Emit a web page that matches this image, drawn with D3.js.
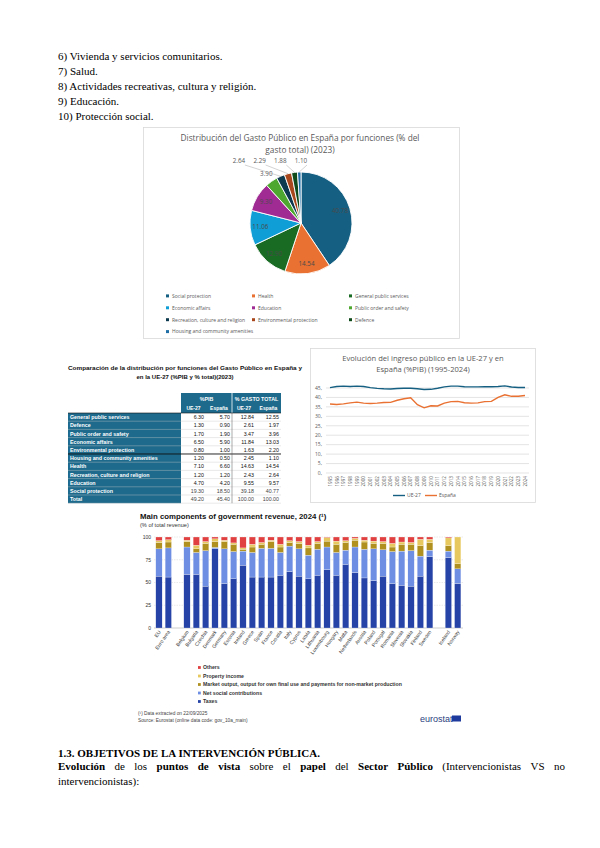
<!DOCTYPE html>
<html>
<head>
<meta charset="utf-8">
<script src="https://cdn.jsdelivr.net/npm/d3@7"></script>
<style>
body { margin: 0; background: #fff; }
svg { display: block; }
</style>
</head>
<body>
<div id="page"></div>
<script>
// ---- data ----
var introLines = ["6) Vivienda y servicios comunitarios.", "7) Salud.", "8) Actividades recreativas, cultura y religión.", "9) Educación.", "10) Protección social."];

var pieLabels = ["Social protection", "Health", "General public services", "Economic affairs", "Education",
  "Public order and safety", "Recreation, culture and religion", "Environmental protection", "Defence", "Housing and community amenities"];
var pieValues = [40.78, 14.54, 12.90, 11.06, 9.30, 3.90, 2.64, 2.29, 1.88, 1.10];
var pieColors = ["#156082", "#e97132", "#196b24", "#0f9ed5", "#a02b93", "#4ea72e", "#0d3a4e", "#a8471c", "#0f4a1a", "#1f6fa6"];

var tableRows = ["General public services", "Defence", "Public order and safety", "Economic affairs", "Environmental protection",
  "Housing and community amenities", "Health", "Recreation, culture and religion", "Education", "Social protection", "Total"];
var pibEU = [6.30, 1.30, 1.70, 6.50, 0.80, 1.20, 7.10, 1.20, 4.70, 19.30, 49.20];
var pibES = [5.70, 0.90, 1.90, 5.90, 1.00, 0.50, 6.60, 1.20, 4.20, 18.50, 45.40];
var totEU = [12.84, 2.61, 3.47, 11.84, 1.63, 2.45, 14.63, 2.43, 9.55, 39.18, 100.00];
var totES = [12.55, 1.97, 3.96, 13.03, 2.20, 1.10, 14.54, 2.64, 9.57, 40.77, 100.00];

var years = ["1995", "1996", "1997", "1998", "1999", "2000", "2001", "2002", "2003", "2004", "2005", "2006", "2007", "2008", "2009",
  "2010", "2011", "2012", "2013", "2014", "2015", "2016", "2017", "2018", "2019", "2020", "2021", "2022", "2023", "2024"];
var ue27 = [45.2, 45.8, 46.0, 45.8, 46.0, 45.8, 45.2, 44.8, 44.6, 44.5, 44.7, 44.9, 44.9, 44.6, 44.2,
  44.3, 44.9, 45.6, 46.0, 46.0, 45.7, 45.6, 45.6, 45.7, 45.7, 45.8, 46.1, 45.5, 45.3, 45.3];
var espana = [36.5, 36.3, 36.6, 37.1, 37.5, 37.0, 36.8, 37.0, 37.3, 37.4, 38.5, 39.3, 39.8, 36.2, 34.5,
  35.6, 35.5, 37.0, 37.8, 37.9, 37.2, 37.0, 37.1, 37.8, 37.9, 40.0, 41.4, 40.6, 40.6, 41.0];

var countries = ["EU", "Euro area", "", "Belgium", "Bulgaria", "Czechia", "Denmark", "Germany", "Estonia", "Ireland", "Greece", "Spain",
  "France", "Croatia", "Italy", "Cyprus", "Latvia", "Lithuania", "Luxembourg", "Hungary", "Malta", "Netherlands", "Austria",
  "Poland", "Portugal", "Romania", "Slovenia", "Slovakia", "Finland", "Sweden", " ", "Iceland", "Norway"];
var taxes =    [57, 56, 0, 59, 59, 46, 87, 49, 54, 69, 56, 56, 56, 58, 62, 57, 54, 58, 64, 58, 70, 61, 55, 52, 57, 49, 47, 46, 57, 78.5, 0, 77.5, 49];
var socContr = [30, 32, 0, 30, 24, 39, 1.5, 38, 30, 15.5, 27, 31.5, 31.5, 25, 28, 30, 26, 28.5, 25, 25, 15.5, 28, 31.5, 35, 29, 35, 37.5, 39, 22, 7, 0, 7, 16];
var marketOut = [7, 6.5, 0, 6, 4, 8, 6.5, 8, 8, 2, 6, 4.5, 7.5, 6, 4, 6, 8, 6.5, 6.5, 9, 8.5, 7.5, 8, 6, 7, 5, 7.5, 7, 11.5, 8.5, 0, 6, 5.5];
var propInc =  [2, 2.5, 0, 1.5, 4, 2, 3, 1.5, 1.5, 1.5, 3, 2, 1.5, 3, 2, 2, 3, 2, 4, 3.5, 2, 2, 2, 2.5, 2, 4, 2.5, 2, 7, 3.5, 0, 8.5, 29.5];
var others =   [4, 3, 0, 3.5, 9, 5, 2, 3.5, 6.5, 12, 8, 6, 3.5, 8, 4, 5, 9, 5, 0.5, 4.5, 4, 1.5, 3.5, 4.5, 5, 7, 5.5, 6, 2.5, 2.5, 0, 1, 0];
var revKeys = ["Taxes", "Net social contributions", "Market output, output for own final use and payments for non-market production", "Property income", "Others"];
var revColors = ["#2644a7", "#6e8ee3", "#b09120", "#e6c85e", "#e04040"];

// ---- page ----
var W = 600, H = 848;
var serif = "'Liberation Serif', 'DejaVu Serif', serif";
var sans = "'Liberation Sans', Arial, sans-serif";
var office = "'Open Sans', 'Noto Sans', sans-serif";

var svg = d3.select("#page").append("svg").attr("width", W).attr("height", H);
svg.append("rect").attr("width", W).attr("height", H).attr("fill", "#fff");

svg.append("g").selectAll("text").data(introLines).enter().append("text")
  .attr("x", 58).attr("y", function(d, i) { return 60 + i * 14.9; })
  .attr("font-family", serif).attr("font-size", 11).attr("fill", "#000")
  .text(function(d) { return d; });

// ---- pie chart ----
svg.append("rect").attr("x", 143.5).attr("y", 127.5).attr("width", 316).attr("height", 211)
  .attr("fill", "#fff").attr("stroke", "#d9d9d9").attr("stroke-width", 0.8);

var pieTitle = svg.append("text").attr("text-anchor", "middle").attr("font-family", office)
  .attr("font-size", 8.3).attr("fill", "#595959");
pieTitle.append("tspan").attr("x", 300).attr("y", 141).text("Distribución del Gasto Público en España por funciones (% del");
pieTitle.append("tspan").attr("x", 300).attr("y", 153).text("gasto total) (2023)");

var cx = 301, cy = 223, r = 51;
var pie = d3.pie().sort(null).value(function(d) { return d; });
var arcs = pie(pieValues);
var arc = d3.arc().innerRadius(0).outerRadius(r);
var labelArc = d3.arc().innerRadius(r * 0.8).outerRadius(r * 0.8);
var pieG = svg.append("g").attr("transform", "translate(" + cx + "," + cy + ")");

pieG.selectAll("path").data(arcs).enter().append("path")
  .attr("d", arc)
  .attr("fill", function(d, i) { return pieColors[i]; })
  .attr("stroke", "#fff").attr("stroke-width", 0.9);

pieG.selectAll("text.inl").data(arcs.slice(0, 5)).enter().append("text")
  .attr("class", "inl")
  .attr("transform", function(d) { return "translate(" + labelArc.centroid(d) + ")"; })
  .attr("text-anchor", "middle").attr("dy", "0.35em")
  .attr("font-family", office).attr("font-size", 6.3).attr("fill", "#4a4a4a")
  .text(function(d) { return d.value.toFixed(2); });

function edgePoint(d, rad) {
  var a = (d.startAngle + d.endAngle) / 2;
  return [Math.sin(a) * rad, -Math.cos(a) * rad];
}
// label of public order close to its slice
var po = arcs[5], poPt = edgePoint(po, r + 9);
pieG.append("text").attr("x", poPt[0]).attr("y", poPt[1]).attr("text-anchor", "middle").attr("dy", "0.35em")
  .attr("font-family", office).attr("font-size", 6.3).attr("fill", "#595959").text(po.value.toFixed(2));

// small slices: labels on a row above the pie with leader lines
var small = arcs.slice(6);
small.forEach(function(d, k) {
  var lx = -(small.length - 1 - k) * 20.7;
  var ly = -r - 9;
  var p = edgePoint(d, r);
  pieG.append("polyline")
    .attr("points", [[lx + 6, ly + 2], [p[0], p[1]]].join(" "))
    .attr("fill", "none").attr("stroke", "#a6a6a6").attr("stroke-width", 0.5);
  pieG.append("text").attr("x", lx).attr("y", ly).attr("text-anchor", "middle")
    .attr("font-family", office).attr("font-size", 6.3).attr("fill", "#595959").text(d.value.toFixed(2));
});

var legX = [167, 253, 350];
var pieLeg = svg.append("g").selectAll("g").data(pieLabels).enter().append("g")
  .attr("transform", function(d, i) { return "translate(" + legX[i % 3] + "," + (296 + Math.floor(i / 3) * 11.9) + ")"; });
pieLeg.append("rect").attr("x", -1).attr("y", -1.6).attr("width", 3).attr("height", 3)
  .attr("fill", function(d, i) { return pieColors[i]; });
pieLeg.append("text").attr("x", 5).attr("dy", "0.35em").attr("font-family", office).attr("font-size", 5)
  .attr("fill", "#595959").text(function(d) { return d; });

// ---- table ----
var tTitle = svg.append("text").attr("text-anchor", "middle").attr("font-family", sans)
  .attr("font-weight", "bold").attr("font-size", 6).attr("fill", "#111");
tTitle.append("tspan").attr("x", 185).attr("y", 370).attr("textLength", 234).attr("lengthAdjust", "spacingAndGlyphs")
  .text("Comparación de la distribución por funciones del Gasto Público en España y");
tTitle.append("tspan").attr("x", 185).attr("y", 378.5).text("en la UE-27 (%PIB y % total)(2023)");

var teal = "#1d6a8c";
var colX = [181, 206, 232, 256, 281];
var rowTop = 413, rowH = 8.2;
var tbl = svg.append("g");
tbl.append("rect").attr("x", colX[0]).attr("y", 393).attr("width", colX[4] - colX[0]).attr("height", rowTop - 393).attr("fill", teal);
tbl.append("line").attr("x1", colX[2]).attr("x2", colX[2]).attr("y1", 393).attr("y2", rowTop).attr("stroke", "#fff").attr("stroke-width", 0.8);
var hdr = [["%PIB", (colX[0] + colX[2]) / 2], ["% GASTO TOTAL", (colX[2] + colX[4]) / 2]];
tbl.selectAll("text.hd").data(hdr).enter().append("text").attr("class", "hd")
  .attr("x", function(d) { return d[1]; }).attr("y", 400.5).attr("text-anchor", "middle")
  .attr("font-family", sans).attr("font-size", 5.3).attr("font-weight", "bold").attr("fill", "#fff")
  .text(function(d) { return d[0]; });
var sub = ["UE-27", "España", "UE-27", "España"];
tbl.selectAll("text.sb").data(sub).enter().append("text").attr("class", "sb")
  .attr("x", function(d, i) { return (colX[i] + colX[i + 1]) / 2; }).attr("y", 410).attr("text-anchor", "middle")
  .attr("font-family", sans).attr("font-size", 5).attr("font-weight", "bold").attr("fill", "#fff")
  .text(function(d) { return d; });

tbl.append("rect").attr("x", 68).attr("y", rowTop).attr("width", colX[0] - 68).attr("height", rowH * tableRows.length).attr("fill", teal);
var rows = tbl.selectAll("g.row").data(tableRows).enter().append("g").attr("class", "row")
  .attr("transform", function(d, i) { return "translate(0," + (rowTop + i * rowH) + ")"; });
rows.append("line").attr("x1", 68).attr("x2", colX[4]).attr("y1", rowH).attr("y2", rowH)
  .attr("stroke", function(d, i) { return i === 4 ? "#111" : "#c8c8c8"; })
  .attr("stroke-width", function(d, i) { return i === 4 ? 0.9 : 0.4; });
rows.append("text").attr("x", 70).attr("y", rowH - 2).attr("font-family", sans).attr("font-size", 5.3)
  .attr("font-weight", "bold").attr("fill", "#fff").text(function(d) { return d; });
var cols = [pibEU, pibES, totEU, totES];
cols.forEach(function(vals, c) {
  rows.append("text").attr("x", colX[c + 1] - 2).attr("y", rowH - 2).attr("text-anchor", "end")
    .attr("font-family", sans).attr("font-size", 5.3).attr("fill", function(d, i) { return i > 8 ? "#444" : "#111"; })
    .text(function(d, i) { return d3.format(".2f")(vals[i]); });
});
tbl.append("line").attr("x1", colX[2]).attr("x2", colX[2]).attr("y1", rowTop).attr("y2", rowTop + rowH * tableRows.length)
  .attr("stroke", "#555").attr("stroke-width", 0.5);
tbl.append("line").attr("x1", 68).attr("x2", colX[4]).attr("y1", rowTop).attr("y2", rowTop).attr("stroke", "#111").attr("stroke-width", 0.6);

// ---- line chart ----
svg.append("rect").attr("x", 310.5).attr("y", 348.5).attr("width", 225).attr("height", 154)
  .attr("fill", "#fff").attr("stroke", "#d9d9d9").attr("stroke-width", 0.8);
var lTitle = svg.append("text").attr("text-anchor", "middle").attr("font-family", office)
  .attr("font-size", 7.6).attr("fill", "#595959");
lTitle.append("tspan").attr("x", 423).attr("y", 361).text("Evolución del ingreso público en la UE-27 y en");
lTitle.append("tspan").attr("x", 423).attr("y", 372).text("España (%PIB) (1995-2024)");

var lx = d3.scalePoint().domain(years).range([330, 525]);
var ly = d3.scaleLinear().domain([0, 45]).range([473, 388]);
var lTicks = d3.range(0, 50, 5);
svg.append("g").selectAll("line").data(lTicks).enter().append("line")
  .attr("x1", 326).attr("x2", 529).attr("y1", ly).attr("y2", ly)
  .attr("stroke", "#d9d9d9").attr("stroke-width", 0.7);
svg.append("g").selectAll("text").data(lTicks).enter().append("text")
  .attr("x", 322).attr("y", ly).attr("dy", "0.35em").attr("text-anchor", "end")
  .attr("font-family", office).attr("font-size", 5).attr("fill", "#595959")
  .text(function(d) { return d + ","; });
svg.append("g").selectAll("text").data(years).enter().append("text")
  .attr("transform", function(d) { return "translate(" + (lx(d) + 1.8) + ",476) rotate(-90)"; })
  .attr("text-anchor", "end").attr("font-family", office).attr("font-size", 4.6).attr("fill", "#595959")
  .text(function(d) { return d; });
var line = d3.line().x(function(d, i) { return lx(years[i]); }).y(function(d) { return ly(d); });
svg.append("path").datum(ue27).attr("d", line).attr("fill", "none").attr("stroke", "#156082").attr("stroke-width", 1.4);
svg.append("path").datum(espana).attr("d", line).attr("fill", "none").attr("stroke", "#e97132").attr("stroke-width", 1.4);
var lLeg = [["UE-27", "#156082", 393], ["España", "#e97132", 425]];
var lg = svg.append("g").selectAll("g").data(lLeg).enter().append("g");
lg.append("line").attr("x1", function(d) { return d[2]; }).attr("x2", function(d) { return d[2] + 12; })
  .attr("y1", 495.5).attr("y2", 495.5).attr("stroke", function(d) { return d[1]; }).attr("stroke-width", 1.4);
lg.append("text").attr("x", function(d) { return d[2] + 14; }).attr("y", 497.3)
  .attr("font-family", office).attr("font-size", 5).attr("fill", "#595959").text(function(d) { return d[0]; });

// ---- stacked bar chart ----
svg.append("text").attr("x", 140).attr("y", 519).attr("font-family", sans).attr("font-weight", "bold")
  .attr("font-size", 7.8).attr("fill", "#111").text("Main components of government revenue, 2024 (¹)");
svg.append("text").attr("x", 140).attr("y", 527).attr("font-family", sans)
  .attr("font-size", 5.6).attr("fill", "#333").text("(% of total revenue)");

var bx = d3.scaleBand().domain(countries).range([154.3, 462.4]).paddingInner(0.32).paddingOuter(0.16);
var by = d3.scaleLinear().domain([0, 100]).range([628, 537]);
var bTicks = [0, 25, 50, 75, 100];
svg.append("g").selectAll("line").data(bTicks).enter().append("line")
  .attr("x1", 154).attr("x2", 463).attr("y1", by).attr("y2", by)
  .attr("stroke", function(d) { return d === 0 ? "#999" : "#d4d4d4"; }).attr("stroke-width", 0.5)
  .attr("stroke-dasharray", function(d) { return d === 0 ? null : "1.5,1"; });
svg.append("g").selectAll("text").data(bTicks).enter().append("text")
  .attr("x", 151).attr("y", by).attr("dy", "0.35em").attr("text-anchor", "end")
  .attr("font-family", sans).attr("font-size", 5).attr("fill", "#333").text(function(d) { return d; });

var revTable = countries.map(function(c, i) {
  return { country: c, Taxes: taxes[i], "Net social contributions": socContr[i], "Market output, output for own final use and payments for non-market production": marketOut[i], "Property income": propInc[i], Others: others[i] };
});
var stack = d3.stack().keys(revKeys)(revTable);
svg.append("g").selectAll("g").data(stack).enter().append("g")
  .attr("fill", function(d, i) { return revColors[i]; })
  .selectAll("rect").data(function(d) { return d; }).enter().append("rect")
  .attr("x", function(d) { return bx(d.data.country); })
  .attr("width", bx.bandwidth())
  .attr("y", function(d) { return by(d[1]); })
  .attr("height", function(d) { return Math.max(0, by(d[0]) - by(d[1])); })
  .attr("stroke", "#fff").attr("stroke-width", 0.25);

svg.append("g").selectAll("text").data(countries.filter(function(c) { return c.trim() !== ""; })).enter().append("text")
  .attr("transform", function(d) { return "translate(" + (bx(d) + bx.bandwidth() / 2 + 2) + ",632) rotate(-55)"; })
  .attr("text-anchor", "end").attr("font-family", sans).attr("font-size", 5).attr("fill", "#333")
  .text(function(d) { return d; });

var revLeg = revKeys.slice().reverse();
var rl = svg.append("g").selectAll("g").data(revLeg).enter().append("g")
  .attr("transform", function(d, i) { return "translate(198," + (667.5 + i * 8.5) + ")"; });
rl.append("rect").attr("x", 0).attr("y", -1.4).attr("width", 2.8).attr("height", 2.8)
  .attr("fill", function(d) { return revColors[revKeys.indexOf(d)]; });
rl.append("text").attr("x", 5).attr("dy", "0.35em").attr("font-family", sans).attr("font-size", 5.2)
  .attr("font-weight", "bold").attr("fill", "#333").text(function(d) { return d; });

svg.append("text").attr("x", 138).attr("y", 714.5).attr("font-family", sans).attr("font-size", 4.8)
  .attr("fill", "#444").text("(¹) Data extracted on 22/09/2025");
svg.append("text").attr("x", 138).attr("y", 721.5).attr("font-family", sans).attr("font-size", 4.8)
  .attr("fill", "#444").text("Source: Eurostat (online data code: gov_10a_main)");
svg.append("text").attr("x", 420).attr("y", 722).attr("font-family", sans).attr("font-size", 9)
  .attr("fill", "#2a3e7e").text("eurostat");
svg.append("rect").attr("x", 452).attr("y", 715.5).attr("width", 9).attr("height", 6).attr("fill", "#1e3a9c");

// ---- closing text ----
svg.append("text").attr("x", 58).attr("y", 757).attr("font-family", serif).attr("font-weight", "bold")
  .attr("font-size", 10.5).attr("fill", "#000").attr("textLength", 262).attr("lengthAdjust", "spacingAndGlyphs")
  .text("1.3. OBJETIVOS DE LA INTERVENCIÓN PÚBLICA.");

var words = [["Evolución", 1], ["de", 0], ["los", 0], ["puntos", 1], ["de", 1], ["vista", 1], ["sobre", 0], ["el", 0],
  ["papel", 1], ["del", 0], ["Sector", 1], ["Público", 1], ["(Intervencionistas", 0], ["VS", 0], ["no", 0]];
var wg = svg.append("g");
var wt = wg.selectAll("text").data(words).enter().append("text")
  .attr("y", 770).attr("font-family", serif).attr("font-size", 11)
  .attr("font-weight", function(d) { return d[1] ? "bold" : "normal"; }).attr("fill", "#000")
  .text(function(d) { return d[0]; });
var widths = wt.nodes().map(function(n) { return n.getComputedTextLength(); });
var gap = (565 - 58 - d3.sum(widths)) / (words.length - 1);
var pos = 58;
wt.attr("x", function(d, i) { var x = pos; pos += widths[i] + gap; return x; });
svg.append("text").attr("x", 58).attr("y", 784.5).attr("font-family", serif).attr("font-size", 11)
  .attr("fill", "#000").text("intervencionistas):");
</script>
</body>
</html>
